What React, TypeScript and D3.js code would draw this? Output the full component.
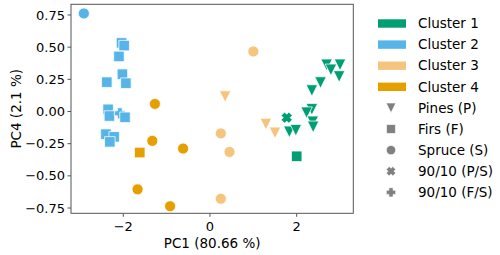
import React from 'react';
import * as d3 from 'd3';

// PCA scores
const clusterNames = ['Cluster 1', 'Cluster 2', 'Cluster 3', 'Cluster 4'];
const clusterColors = ['#009E73', '#56B4E9', '#F5C57E', '#E69F00'];
const speciesNames = ['Pines (P)', 'Firs (F)', 'Spruce (S)', '90/10 (P/S)', '90/10 (F/S)'];
const speciesKeys = ['P', 'F', 'S', 'PS', 'FS'];

const pc1 = [
  -2.91, -2.04, -1.98, -2.10, -2.38, -2.02, -1.94, -2.35, -2.32, -2.08, -1.96, -2.40, -2.21, -2.31,
  -1.27, -1.33, -0.62, -1.62, -1.67, -0.92,
  1.0, 0.35, 0.25, 0.45, 0.25, 1.29, 1.50,
  2.69, 2.79, 3.0, 2.98, 2.55, 2.35, 2.35, 2.23, 2.37, 2.38, 1.83, 1.98, 1.77, 2.0,
];
const pc4 = [
  0.762, 0.533, 0.512, 0.428, 0.228, 0.29, 0.22, 0.017, -0.035, -0.014, -0.045, -0.176, -0.197, -0.236,
  0.059, -0.228, -0.288, -0.319, -0.605, -0.736,
  0.467, 0.116, -0.17, -0.314, -0.678, -0.098, -0.166,
  0.363, 0.324, 0.363, 0.272, 0.225, 0.163, 0.017, -0.009, -0.08, -0.119, -0.158, -0.145, -0.048, -0.348,
];
const cluster = [
  2, 2, 2, 2, 2, 2, 2, 2, 2, 2, 2, 2, 2, 2,
  4, 4, 4, 4, 4, 4,
  3, 3, 3, 3, 3, 3, 3,
  1, 1, 1, 1, 1, 1, 1, 1, 1, 1, 1, 1, 1, 1,
];
const species = [
  'S', 'F', 'F', 'F', 'F', 'F', 'F', 'F', 'F', 'FS', 'F', 'F', 'F', 'F',
  'S', 'S', 'S', 'F', 'S', 'S',
  'S', 'P', 'S', 'S', 'S', 'P', 'P',
  'P', 'P', 'P', 'P', 'P', 'P', 'P', 'P', 'P', 'P', 'P', 'P', 'PS', 'F',
];
const xTicks = [-2, 0, 2];
const yTicks = [-0.75, -0.5, -0.25, 0, 0.25, 0.5, 0.75];

// matplotlib-like marker shapes, size = marker width in px
const triDown = {
  draw(ctx: any, s: number) {
    const h = s / 2;
    ctx.moveTo(0, h);
    ctx.lineTo(-h, -h);
    ctx.lineTo(h, -h);
    ctx.closePath();
  },
};
const square = {
  draw(ctx: any, s: number) {
    const h = s / 2;
    ctx.rect(-h, -h, s, s);
  },
};
const circle = {
  draw(ctx: any, s: number) {
    const r = s / 2;
    ctx.moveTo(r, 0);
    ctx.arc(0, 0, r, 0, 2 * Math.PI);
  },
};
const crossPts = (s: number) => {
  const a = s / 2;
  const b = s / 4.5;
  return [[-b, -a], [b, -a], [b, -b], [a, -b], [a, b], [b, b], [b, a], [-b, a], [-b, b], [-a, b], [-a, -b], [-b, -b]];
};
const plusFilled = {
  draw(ctx: any, s: number) {
    crossPts(s).forEach((p, i) => (i ? ctx.lineTo(p[0], p[1]) : ctx.moveTo(p[0], p[1])));
    ctx.closePath();
  },
};
const xFilled = {
  draw(ctx: any, s: number) {
    const c = Math.SQRT1_2;
    crossPts(s).forEach((p, i) => {
      const x = (p[0] - p[1]) * c * 0.95;
      const y = (p[0] + p[1]) * c * 0.95;
      i ? ctx.lineTo(x, y) : ctx.moveTo(x, y);
    });
    ctx.closePath();
  },
};
const shapes: Record<string, any> = { P: triDown, F: square, S: circle, PS: xFilled, FS: plusFilled };
const sizes: Record<string, number> = { P: 11.5, F: 10.5, S: 11, PS: 11.5, FS: 11 };

const font = 'DejaVu Sans, sans-serif';

export default function App() {
  const W = 500, H = 255;
  const left = 71, right = 353.3, top = 4.3, bottom = 213.3;
  const x = d3.scaleLinear().domain([-3.206, 3.306]).range([left, right]);
  const y = d3.scaleLinear().domain([-0.791, 0.833]).range([bottom, top]);
  const sym = (k: string) => d3.symbol().type(shapes[k]).size(sizes[k])() as string;

  const legX = 392, legY0 = 23.5, legStep = 21.1;

  return (
    <svg width={W} height={H} style={{ position: 'absolute', left: 0, top: 0 }}>
      <rect width={W} height={H} fill="#fff" />
      {pc1.map((v, i) => (
        <path
          key={i}
          d={sym(species[i])}
          transform={`translate(${x(v)},${y(pc4[i])})`}
          fill={clusterColors[cluster[i] - 1]}
          stroke="#fff"
          strokeWidth={0.75}
        />
      ))}
      <rect x={left} y={top} width={right - left} height={bottom - top} fill="none" stroke="#555" strokeWidth={1} />
      {xTicks.map((t) => (
        <g key={t} transform={`translate(${x(t)},${bottom})`}>
          <line y2={3.5} stroke="#555" />
          <text y={18} textAnchor="middle" fontFamily={font} fontSize={13} fill="#000">
            {t < 0 ? '\u2212' + Math.abs(t) : t}
          </text>
        </g>
      ))}
      {yTicks.map((t) => (
        <g key={t} transform={`translate(${left},${y(t)})`}>
          <line x2={-3.5} stroke="#555" />
          <text x={-6} dy="0.35em" textAnchor="end" fontFamily={font} fontSize={13} fill="#000">
            {(t < 0 ? '\u2212' : '') + Math.abs(t).toFixed(2)}
          </text>
        </g>
      ))}
      <text x={(left + right) / 2} y={248} textAnchor="middle" fontFamily={font} fontSize={13.5}>
        PC1 (80.66 %)
      </text>
      <text
        transform={`translate(21,${(top + bottom) / 2}) rotate(-90)`}
        textAnchor="middle"
        fontFamily={font}
        fontSize={13.5}
      >
        PC4 (2.1 %)
      </text>
      {clusterNames.map((c, i) => (
        <g key={c} transform={`translate(0,${legY0 + i * legStep})`}>
          <rect x={legX - 14} y={-4.2} width={28} height={8.4} fill={clusterColors[i]} />
          <text x={418} dy="0.35em" fontFamily={font} fontSize={13.5}>
            {c}
          </text>
        </g>
      ))}
      {speciesNames.map((s, i) => (
        <g key={s} transform={`translate(0,${legY0 + (i + 4) * legStep})`}>
          <path d={sym(speciesKeys[i])} transform={`translate(${legX - 1},0) scale(0.85)`} fill="#808080" stroke="#fff" strokeWidth={0.75} />
          <text x={418} dy="0.35em" fontFamily={font} fontSize={13.5}>
            {s}
          </text>
        </g>
      ))}
    </svg>
  );
}
